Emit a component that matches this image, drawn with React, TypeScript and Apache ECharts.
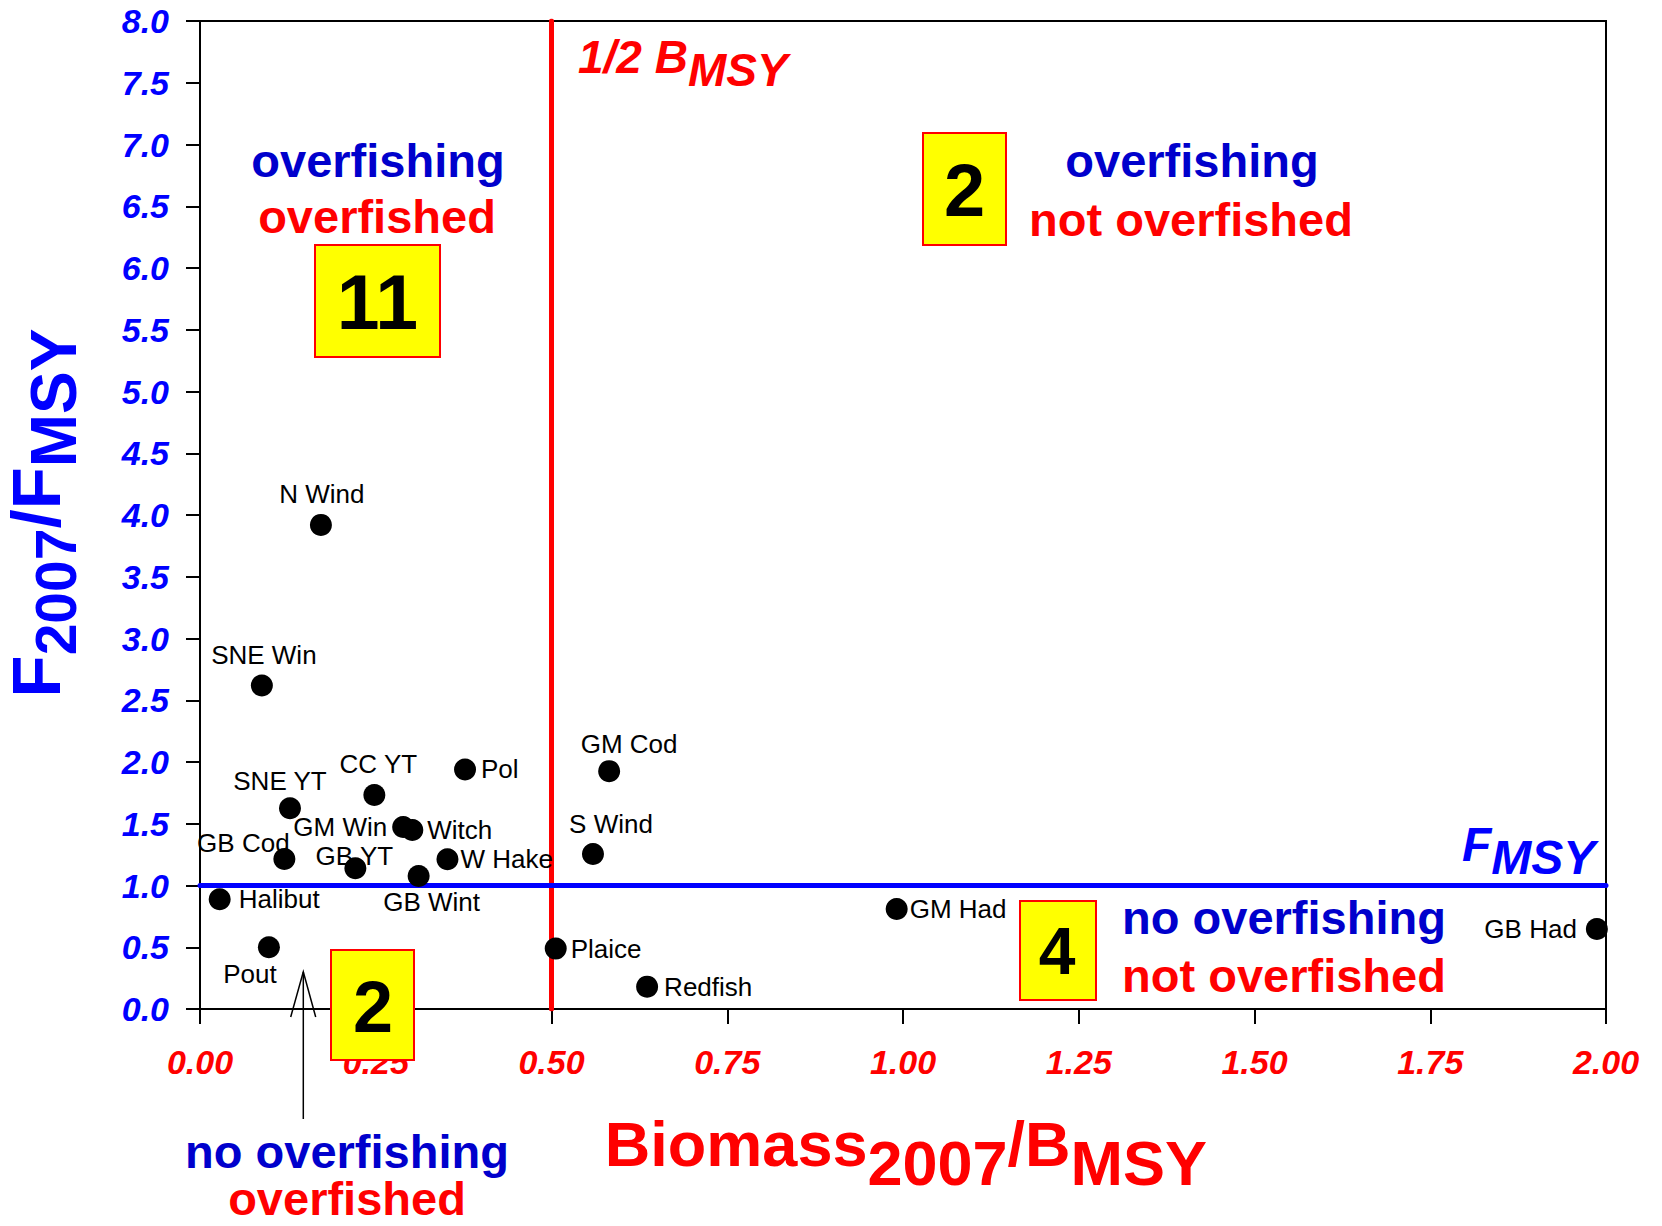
import React, { useEffect, useRef } from "react";
import * as echarts from "echarts";

// ---------- data ----------
const stockNames = [
  "N Wind", "SNE Win", "SNE YT", "CC YT", "Pol", "GM Cod", "GM Win", "Witch",
  "GB Cod", "GB YT", "W Hake", "GB Wint", "S Wind", "Halibut", "Pout", "Plaice",
  "Redfish", "GM Had", "GB Had",
];
const biomassRatio = [
  0.172, 0.088, 0.128, 0.248, 0.377, 0.582, 0.289, 0.302,
  0.12, 0.221, 0.352, 0.311, 0.559, 0.028, 0.098, 0.506,
  0.636, 0.991, 1.987,
];
const fRatio = [
  3.92, 2.62, 1.625, 1.733, 1.94, 1.926, 1.474, 1.449,
  1.215, 1.139, 1.212, 1.077, 1.255, 0.888, 0.5, 0.489,
  0.181, 0.81, 0.648,
];
const xTickLabels = ["0.00", "0.25", "0.50", "0.75", "1.00", "1.25", "1.50", "1.75", "2.00"];
const yTickLabels = [
  "0.0", "0.5", "1.0", "1.5", "2.0", "2.5", "3.0", "3.5", "4.0",
  "4.5", "5.0", "5.5", "6.0", "6.5", "7.0", "7.5", "8.0",
];
const halfBmsy = 0.5;
const fmsy = 1.0;
const quadrantCounts = ["11", "2", "2", "4"]; // overfished+overfishing, overfishing only, overfished only, neither

// ---------- label placement (layout only) ----------
type LabelPlace = { pos: string; d?: number; off?: [number, number] };
const labelPlacement: Record<string, LabelPlace> = {
  "N Wind": { pos: "inside", off: [1, -31] },
  "SNE Win": { pos: "inside", off: [2, -30] },
  "SNE YT": { pos: "inside", off: [-10, -27] },
  "CC YT": { pos: "inside", off: [4, -31] },
  Pol: { pos: "right", d: 5 },
  "GM Cod": { pos: "inside", off: [20, -27] },
  "GM Win": { pos: "left", d: 5 },
  Witch: { pos: "right", d: 4 },
  "GB Cod": { pos: "inside", off: [-41, -16] },
  "GB YT": { pos: "inside", off: [-1, -12] },
  "W Hake": { pos: "right", d: 2 },
  "GB Wint": { pos: "inside", off: [13, 26] },
  "S Wind": { pos: "inside", off: [18, -30] },
  Halibut: { pos: "right", d: 8 },
  Pout: { pos: "inside", off: [-19, 27] },
  Plaice: { pos: "right", d: 4 },
  Redfish: { pos: "right", d: 6 },
  "GM Had": { pos: "right", d: 2 },
  "GB Had": { pos: "left", d: 9 },
};

const FF = "Liberation Sans, Arial, Helvetica, sans-serif";

function txt(x: number, y: number, text: string, size: number, color: string, lineHeight?: number) {
  const font = `bold ${size}px ${FF}`;
  const style: any = {
    text,
    fill: color,
    textFill: color,
    font,
    align: "center",
    textAlign: "center",
    verticalAlign: "middle",
    textVerticalAlign: "middle",
  };
  if (lineHeight) {
    style.lineHeight = lineHeight;
    style.textLineHeight = lineHeight;
  }
  return { type: "text", x, y, z: 100, style };
}

function richTok(size: number, color: string, padTop: number, padBottom: number, italic = false) {
  return {
    fontSize: size,
    fontWeight: "bold",
    fontStyle: italic ? "italic" : "normal",
    fontFamily: FF,
    fill: color,
    textFill: color,
    color,
    padding: [padTop, 0, padBottom, 0],
    textPadding: [padTop, 0, padBottom, 0],
  };
}

function richText(x: number, y: number, text: string, rich: any, align = "center", rotation = 0) {
  return {
    type: "text",
    x,
    y,
    rotation,
    z: 100,
    style: {
      text,
      rich,
      align,
      textAlign: align,
      verticalAlign: "middle",
      textVerticalAlign: "middle",
    },
  };
}

function box(x: number, y: number, w: number, h: number) {
  return {
    type: "rect",
    z: 99,
    shape: { x, y, width: w, height: h },
    style: { fill: "#ffff00", stroke: "#ff0000", lineWidth: 2 },
  };
}

export default function App() {
  const ref = useRef<HTMLDivElement>(null);

  useEffect(() => {
    if (!ref.current) return;
    const chart = echarts.init(ref.current, null, { renderer: "svg" });

    const scatterData = stockNames.map((n, i) => {
      const p = labelPlacement[n];
      const label: any = {
        show: true,
        formatter: n,
        color: "#000",
        fontSize: 26,
        fontFamily: FF,
        position: p.pos,
      };
      if (p.d !== undefined) label.distance = p.d;
      if (p.off) label.offset = p.off;
      return { name: n, value: [biomassRatio[i], fRatio[i]], label };
    });

    const darkBlue = "#0000cc";
    const red = "#ff0000";
    const blue = "#0000ff";

    const graphics: any[] = [
      // quadrant descriptions
      txt(378, 160, "overfishing", 47, darkBlue),
      txt(377, 216, "overfished", 47, red),
      txt(1192, 160, "overfishing", 47, darkBlue),
      txt(1191, 219, "not overfished", 47, red),
      txt(1284, 917, "no overfishing", 47, darkBlue),
      txt(1284, 975, "not overfished", 47, red),
      txt(347, 1151, "no overfishing", 47, darkBlue, 44),
      txt(347, 1198, "overfished", 47, red, 44),
      // count boxes
      box(315, 245, 125, 112),
      txt(377.5, 302, quadrantCounts[0], 77, "#000"),
      box(923, 133, 83, 112),
      txt(964.5, 190, quadrantCounts[1], 74, "#000"),
      box(331, 950, 83, 110),
      txt(373, 1007, quadrantCounts[2], 72, "#000"),
      box(1020, 901, 76, 99),
      txt(1057, 951, quadrantCounts[3], 66, "#000"),
      // arrow
      {
        type: "polyline",
        z: 98,
        shape: { points: [[290.7, 1017], [303.3, 971.7], [315.7, 1017]] },
        style: { stroke: "#000", lineWidth: 1.5, fill: "none" },
      },
      {
        type: "line",
        z: 98,
        shape: { x1: 303.3, y1: 972, x2: 303.3, y2: 1119 },
        style: { stroke: "#000", lineWidth: 1.5 },
      },
      // reference line labels
      richText(578, 57, "{a|1/2 B}{b|MSY}", { a: richTok(46, red, 0, 0, true), b: richTok(46, red, 26, 0, true) }, "left"),
      richText(1462, 844, "{a|F}{b|MSY}", { a: richTok(48, blue, 0, 0, true), b: richTok(48, blue, 26, 0, true) }, "left"),
      // axis titles
      richText(906, 1144, "{a|Biomass}{b|2007}{a|/B}{b|MSY}", { a: richTok(63, red, 0, 0), b: richTok(63, red, 37, 0) }),
      // rotated y title: main glyphs padded at bottom (shift up 20), subscripts on centre line
      richText(
        56,
        513,
        "{a|F}{s|2007}{a|/F}{m|MSY}",
        { a: richTok(69, blue, 0, 40), s: richTok(57, blue, 0, 0), m: richTok(64, blue, 0, 4) },
        "center",
        Math.PI / 2
      ),
    ];

    const option: any = {
      animation: false,
      backgroundColor: "#ffffff",
      grid: {
        left: 200,
        top: 21,
        right: 56,
        bottom: 217,
        show: true,
        borderColor: "#000",
        borderWidth: 2,
        backgroundColor: "transparent",
      },
      xAxis: {
        type: "value",
        min: 0,
        max: 2,
        interval: 0.25,
        axisLine: { show: true, onZero: false, lineStyle: { color: "#000", width: 2 } },
        axisTick: { show: true, inside: false, length: 15, lineStyle: { color: "#000", width: 2 } },
        splitLine: { show: false },
        axisLabel: {
          show: true,
          margin: 36,
          color: red,
          fontSize: 34,
          fontWeight: "bold",
          fontStyle: "italic",
          fontFamily: FF,
          showMinLabel: true,
          showMaxLabel: true,
          formatter: (v: number) => xTickLabels[Math.round(v / 0.25)] ?? "",
        },
      },
      yAxis: {
        type: "value",
        min: 0,
        max: 8,
        interval: 0.5,
        axisLine: { show: true, onZero: false, lineStyle: { color: "#000", width: 2 } },
        axisTick: { show: true, inside: false, length: 14, lineStyle: { color: "#000", width: 2 } },
        splitLine: { show: false },
        axisLabel: {
          show: true,
          margin: 31,
          color: blue,
          fontSize: 34,
          fontWeight: "bold",
          fontStyle: "italic",
          fontFamily: FF,
          showMinLabel: true,
          showMaxLabel: true,
          formatter: (v: number) => yTickLabels[Math.round(v / 0.5)] ?? "",
        },
      },
      series: [
        {
          type: "line",
          data: [
            [halfBmsy, 0],
            [halfBmsy, 8],
          ],
          symbol: "none",
          silent: true,
          z: 2,
          lineStyle: { color: red, width: 5, cap: "round" },
        },
        {
          type: "line",
          data: [
            [0, fmsy],
            [2, fmsy],
          ],
          symbol: "none",
          silent: true,
          z: 3,
          lineStyle: { color: blue, width: 5, cap: "round" },
        },
        {
          type: "scatter",
          symbol: "circle",
          symbolSize: 22,
          z: 5,
          itemStyle: { color: "#000", opacity: 1 },
          data: scatterData,
        },
      ],
      graphic: { elements: graphics },
    };

    chart.setOption(option);
    return () => chart.dispose();
  }, []);

  return (
    <div
      ref={ref}
      style={{ position: "absolute", left: 0, top: 0, width: 1662, height: 1226, background: "#fff" }}
    />
  );
}
